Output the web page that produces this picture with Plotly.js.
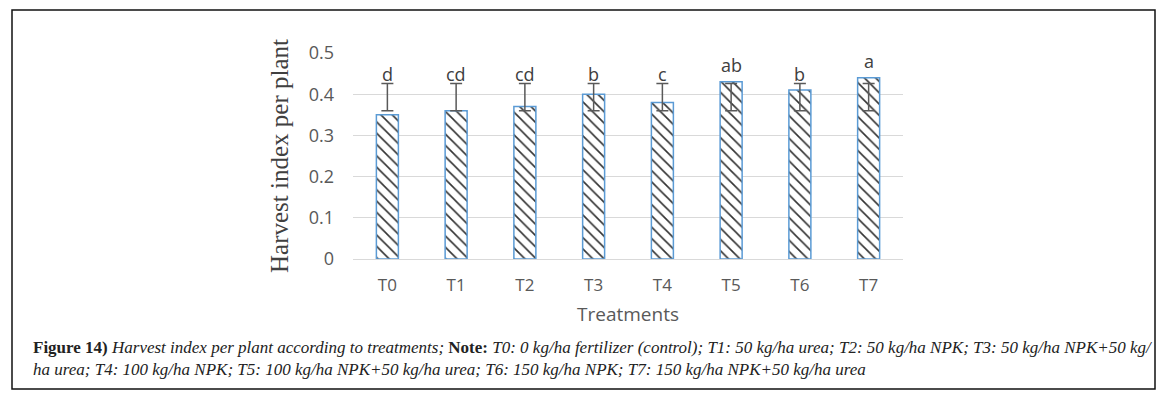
<!DOCTYPE html>
<html>
<head>
<meta charset="utf-8">
<script src="https://cdn.plot.ly/plotly-3.0.1.min.js"></script>
<style>
html,body{margin:0;padding:0;background:#fff;}
#chart{width:1166px;height:397px;}
</style>
</head>
<body>
<div id="chart"></div>
<script>
// Data
const treatments = ["T0","T1","T2","T3","T4","T5","T6","T7"];
const harvestIndex = [0.35, 0.36, 0.37, 0.40, 0.38, 0.43, 0.41, 0.44];
const errLow  = [0.36, 0.36, 0.36, 0.36, 0.36, 0.36, 0.36, 0.36];
const errHigh = [0.426, 0.426, 0.426, 0.426, 0.426, 0.426, 0.426, 0.426];
const letters = ["d","cd","cd","b","c","ab","b","a"];
const yTicks = [0, 0.1, 0.2, 0.3, 0.4, 0.5];
const yTickText = ["0","0.1","0.2","0.3","0.4","0.5"];

// plot-area pixel frame (for converting page positions to paper coords)
const PL = 353, PR = 903, PT = 53, PB = 259;
const px2x = p => (p - PL) / (PR - PL);
const px2y = p => (PB - p) / (PB - PT);

const barTrace = {
  type: "bar",
  x: treatments,
  y: harvestIndex,
  marker: {
    color: "#ffffff",
    line: {color: "#5B9BD5", width: 1.5},
    pattern: {shape: "\\", fgcolor: "#333333", bgcolor: "#ffffff", size: 8, solidity: 0.2}
  },
  hoverinfo: "x+y",
  showlegend: false
};

const errTrace = {
  type: "scatter",
  mode: "markers",
  x: treatments,
  y: errLow,
  marker: {size: 1, color: "rgba(0,0,0,0)"},
  error_y: {
    type: "data",
    symmetric: false,
    array: errHigh.map((h, i) => h - errLow[i]),
    arrayminus: errLow.map(() => 0),
    color: "#595959",
    thickness: 1.5,
    width: 6
  },
  hoverinfo: "skip",
  showlegend: false
};

const annotations = letters.map((t, i) => ({
  x: treatments[i],
  y: Math.max(harvestIndex[i], errHigh[i]),
  xref: "x", yref: "y",
  text: t,
  showarrow: false,
  yanchor: "bottom",
  yshift: harvestIndex[i] > errHigh[i] ? 3 : -5,
  font: {family: "Open Sans, Noto Sans, sans-serif", size: 18, color: "#404040"}
}));

annotations.push({
  xref: "paper", yref: "paper",
  x: px2x(31), y: px2y(336),
  xanchor: "left", yanchor: "top",
  align: "left",
  showarrow: false,
  text: "<b>Figure 14)</b> <i>Harvest index per plant according to treatments;</i> <b>Note:</b> <i>T0: 0 kg/ha fertilizer (control); T1: 50 kg/ha urea; T2: 50 kg/ha NPK; T3: 50 kg/ha NPK+50 kg/</i><br><i>ha urea; T4: 100 kg/ha NPK; T5: 100 kg/ha NPK+50 kg/ha urea; T6: 150 kg/ha NPK; T7: 150 kg/ha NPK+50 kg/ha urea</i>",
  font: {family: "Liberation Serif, serif", size: 17, color: "#222222"}
});

const layout = {
  width: 1166, height: 397,
  margin: {l: PL, r: 1166 - PR, t: PT, b: 397 - PB, pad: 0},
  paper_bgcolor: "#ffffff",
  plot_bgcolor: "#ffffff",
  bargap: 0.68,
  xaxis: {
    type: "category",
    showgrid: false,
    showline: false,
    zeroline: false,
    ticks: "",
    tickfont: {family: "Open Sans, Noto Sans, sans-serif", size: 17, color: "#595959"},
    ticklabelstandoff: 14,
    title: {text: "Treatments", font: {family: "Open Sans, Noto Sans, sans-serif", size: 19, color: "#595959"}, standoff: 12}
  },
  yaxis: {
    range: [0, 0.5],
    tickvals: yTicks,
    ticktext: yTickText,
    showgrid: true,
    gridcolor: "#d9d9d9",
    gridwidth: 1,
    zeroline: true,
    zerolinecolor: "#d9d9d9",
    zerolinewidth: 1,
    showline: false,
    ticks: "",
    ticklabelstandoff: 18,
    tickfont: {family: "Open Sans, Noto Sans, sans-serif", size: 18, color: "#595959"},
    title: {text: "Harvest index per plant", font: {family: "Liberation Serif, serif", size: 25, color: "#404040"}, standoff: 12}
  },
  annotations: annotations,
  shapes: [{
    type: "rect", xref: "paper", yref: "paper",
    x0: px2x(12), x1: px2x(1155), y0: px2y(389), y1: px2y(10),
    line: {color: "#111111", width: 1.5},
    fillcolor: "rgba(0,0,0,0)",
    layer: "below"
  }]
};

Plotly.newPlot("chart", [barTrace, errTrace], layout, {displayModeBar: false, staticPlot: true});
</script>
</body>
</html>
